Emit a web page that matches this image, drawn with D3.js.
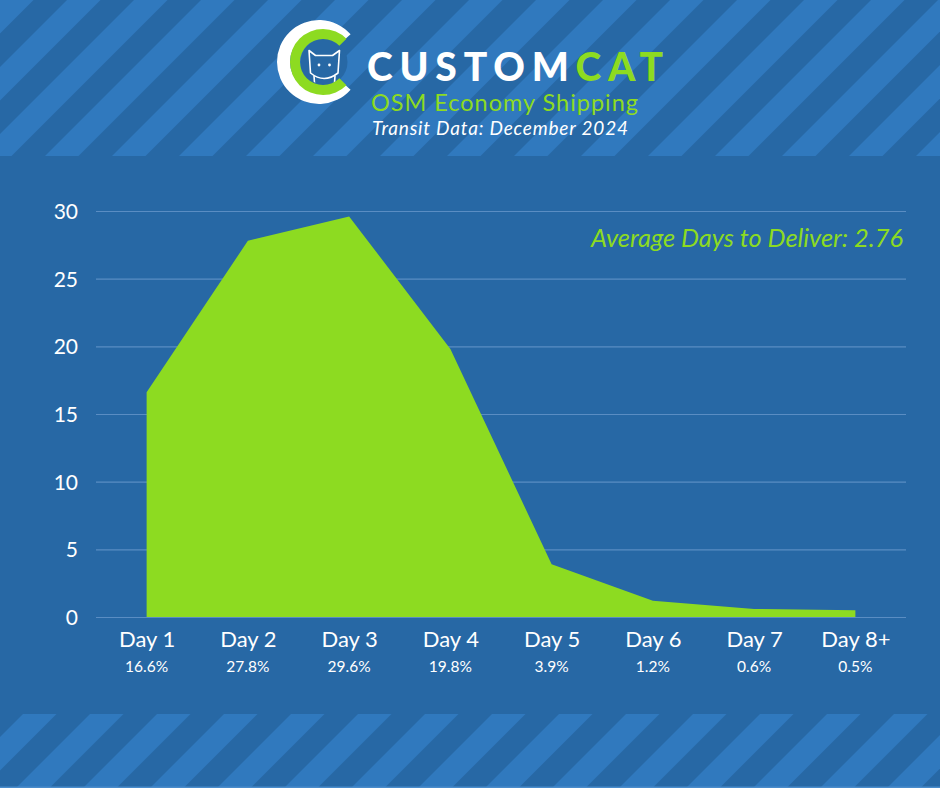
<!DOCTYPE html>
<html>
<head>
<meta charset="utf-8">
<script src="https://cdn.jsdelivr.net/npm/d3@7/dist/d3.min.js"></script>
<style>
  html, body { margin: 0; padding: 0; background: #2768a5; }
  svg { display: block; }
</style>
</head>
<body>
<svg id="chart" width="940" height="788"></svg>
<script>
// ---- data ----
const categories = ["Day 1", "Day 2", "Day 3", "Day 4", "Day 5", "Day 6", "Day 7", "Day 8+"];
const values = [16.6, 27.8, 29.6, 19.8, 3.9, 1.2, 0.6, 0.5];
const percentLabels = ["16.6%", "27.8%", "29.6%", "19.8%", "3.9%", "1.2%", "0.6%", "0.5%"];
const yTicks = [0, 5, 10, 15, 20, 25, 30];
const titleText = "OSM Economy Shipping";
const subtitleText = "Transit Data: December 2024";
const averageText = "Average Days to Deliver: 2.76";

// ---- colours ----
const DARK = "#2768a5";
const LIGHT = "#3079be";
const GREEN = "#8ddb21";
const GRID = "#5a8dc3";

const W = 940, H = 788;
const svg = d3.select("#chart");

// background
svg.append("rect").attr("width", W).attr("height", H).attr("fill", DARK);

// striped bands
function stripes(y0, y1) {
  const g = svg.append("g");
  const period = 67, lw = 33.5;
  for (let c = -period * 2; c < W + y1 + period * 2; c += period) {
    const pts = [[c - y0, y0], [c + lw - y0, y0], [c + lw - y1, y1], [c - y1, y1]];
    g.append("polygon").attr("points", pts.map(p => p.join(",")).join(" ")).attr("fill", LIGHT);
  }
  const id = "clip" + y0;
  svg.append("clipPath").attr("id", id).append("rect").attr("x", 0).attr("y", y0).attr("width", W).attr("height", y1 - y0);
  g.attr("clip-path", `url(#${id})`);
}
stripes(0, 156);
stripes(714, 788);
svg.append("rect").attr("x", 0).attr("y", 786.5).attr("width", W).attr("height", 1.5).attr("fill", "#4a8ccb");

// ---- logo ----
const logo = svg.append("g");
const whiteGap = 0.72, greenGap = 0.78;
logo.append("path")
  .attr("transform", "translate(319,62)")
  .attr("d", d3.arc()({innerRadius: 29, outerRadius: 42, startAngle: Math.PI / 2 + whiteGap, endAngle: Math.PI / 2 + 2 * Math.PI - whiteGap}))
  .attr("fill", "#ffffff");
logo.append("circle").attr("cx", 324).attr("cy", 62).attr("r", 23.5).attr("fill", DARK);
logo.append("path")
  .attr("transform", "translate(323,62)")
  .attr("d", d3.arc()({innerRadius: 23, outerRadius: 33, startAngle: Math.PI / 2 + greenGap, endAngle: Math.PI / 2 + 2 * Math.PI - greenGap}))
  .attr("fill", GREEN);
svg.append("clipPath").attr("id", "catclip").append("circle").attr("cx", 324).attr("cy", 62).attr("r", 22.5);
const cat = logo.append("g").attr("clip-path", "url(#catclip)")
  .attr("fill", "none").attr("stroke", "#ffffff").attr("stroke-width", 1.6).attr("stroke-linejoin", "round");
cat.append("path").attr("d", "M310.5,73 L309,50.5 L315.5,55.5 L332.5,55.5 L339.5,50.5 L338,73 Q324,84 310.5,73 Z");
cat.append("path").attr("d", "M314,76 L315,90 M335,76 L334,90");
logo.append("circle").attr("cx", 319).attr("cy", 65).attr("r", 1.4).attr("fill", "#fff");
logo.append("circle").attr("cx", 329.5).attr("cy", 65).attr("r", 1.4).attr("fill", "#fff");

// brand text
const brand = svg.append("text")
  .attr("x", 367).attr("y", 81)
  .attr("font-family", "Lato").attr("font-weight", 900).attr("font-size", 39)
  .attr("textLength", 296).attr("lengthAdjust", "spacing");
brand.append("tspan").attr("fill", "#ffffff").text("CUSTOM");
brand.append("tspan").attr("fill", GREEN).text("CAT");

svg.append("text")
  .attr("x", 371).attr("y", 111)
  .attr("font-family", "Lato").attr("font-size", 23.5).attr("fill", GREEN)
  .attr("textLength", 267).attr("lengthAdjust", "spacing")
  .text(titleText);
svg.append("text")
  .attr("x", 372).attr("y", 135)
  .attr("font-family", "Lato").attr("font-style", "italic").attr("font-size", 19).attr("fill", "#ffffff")
  .attr("textLength", 256).attr("lengthAdjust", "spacing")
  .text(subtitleText);

// ---- chart ----
const x = d3.scalePoint().domain(categories).range([96, 906]).padding(0.5);
const y = d3.scaleLinear().domain([0, 30]).range([617, 211]);

// grid
const yAxis = d3.axisLeft(y).tickValues(yTicks).tickSize(-(906 - 96)).tickPadding(18);
const gy = svg.append("g").attr("transform", "translate(96,0)").call(yAxis);
gy.select(".domain").remove();
gy.selectAll(".tick line").attr("stroke", GRID).attr("stroke-width", 1.2);
gy.selectAll(".tick text")
  .attr("fill", "#ffffff").attr("font-family", "Lato").attr("font-size", 21)
  .attr("dy", "0.36em");

// area
const area = d3.area()
  .x((d, i) => x(categories[i]))
  .y0(y(0))
  .y1(d => y(d))
  .curve(d3.curveLinear);
svg.append("path").datum(values).attr("d", area).attr("fill", GREEN);

// x labels
const xAxis = d3.axisBottom(x).tickSize(0).tickPadding(0);
const gx = svg.append("g").attr("transform", "translate(0,617)").call(xAxis);
gx.select(".domain").remove();
gx.selectAll(".tick text")
  .attr("fill", "#ffffff").attr("font-family", "Lato").attr("font-size", 22)
  .attr("dy", 0).attr("y", 30);

svg.append("g").selectAll("text").data(percentLabels).join("text")
  .attr("x", (d, i) => x(categories[i]))
  .attr("y", 672)
  .attr("text-anchor", "middle")
  .attr("fill", "#ffffff").attr("font-family", "Lato").attr("font-size", 15.5)
  .text(d => d);

// average annotation
svg.append("text")
  .attr("x", 903).attr("y", 247)
  .attr("text-anchor", "end")
  .attr("font-family", "Lato").attr("font-style", "italic").attr("font-size", 25.4)
  .attr("fill", GREEN)
  .text(averageText);
</script>
</body>
</html>
